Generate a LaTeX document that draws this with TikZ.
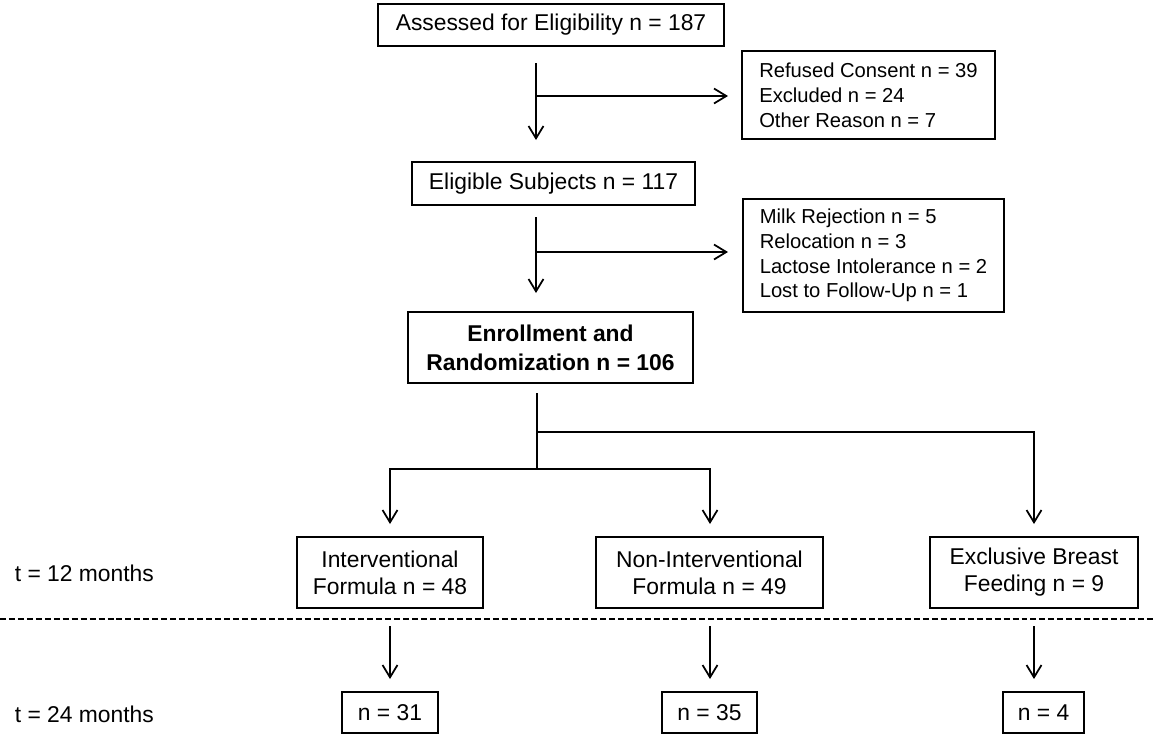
\documentclass[tikz,border=0pt]{standalone}
\usepackage{fontspec}
\setmainfont{Liberation Sans}
\usetikzlibrary{arrows.meta}
\begin{document}
\begin{tikzpicture}[x=0.02cm,y=-0.02cm,
  wh/.style 2 args={minimum width=#1*0.02cm, minimum height=#2*0.02cm},
  box/.style={draw, line width=1pt, inner sep=0pt, align=center, font=\fontsize{13}{15.3}\selectfont},
  sidebox/.style={draw, line width=1pt, inner sep=0pt, align=left, font=\fontsize{11.5}{14.1}\selectfont},
  lbl/.style={inner sep=0pt, anchor=base west, font=\fontsize{13}{15.3}\selectfont},
  conn/.style={line width=1pt},
  arr/.style={conn, -{Straight Barb[length=7pt,width=8.5pt,line width=1pt]}},
  sep/.style={line width=0.8pt, dash pattern=on 3.4pt off 1.7pt},
]
\useasboundingbox (0,0) rectangle (1155,735);

% boxes
\node[box, wh={346}{42}] (assess) at (551,25) {Assessed for Eligibility n = 187};
\node[sidebox, wh={253}{88}] (refused) at (868.5,95) {Refused Consent n = 39\\Excluded n = 24\\Other Reason n = 7};
\node[box, wh={283}{43}] (elig) at (553.5,183.5) {Eligible Subjects n = 117};
\node[sidebox, wh={261}{113}] (milk) at (873.5,255.5) {Milk Rejection n = 5\\Relocation n = 3\\Lactose Intolerance n = 2\\Lost to Follow-Up n = 1};
\node[box, wh={285}{71}, font=\bfseries\fontsize{13}{16.4}\selectfont] (enroll) at (550.5,347.5) {Enrollment and\\Randomization n = 106};
\node[box, wh={186}{71}] (int) at (390,572.5) {Interventional\\Formula n = 48};
\node[box, wh={227}{71}] (nonint) at (709.5,572.5) {Non-Interventional\\Formula n = 49};
\node[box, wh={208}{71}] (excl) at (1034,572.5) {Exclusive Breast\\Feeding n = 9};
\node[box, wh={96}{41}] (n31) at (390,712.5) {n = 31};
\node[box, wh={95}{41}] (n35) at (709.5,712.5) {n = 35};
\node[box, wh={81}{41}] (n4) at (1043.5,712.5) {n = 4};

% time labels
\node[lbl] (t12) at (14.5,581) {t = 12 months};
\node[lbl] (t24) at (14.5,722) {t = 24 months};

% connector points
\coordinate (a1) at (536,63);
\coordinate (a1m) at (536,96);
\coordinate (a1e) at (536,140);
\coordinate (a1r) at (728,96);
\coordinate (a2) at (536,217);
\coordinate (a2m) at (536,252);
\coordinate (a2e) at (536,293);
\coordinate (a2r) at (728,252);
\coordinate (a3) at (537,393);
\coordinate (a3m) at (537,432);
\coordinate (a3b) at (537,469);
\coordinate (tint) at (390,524);
\coordinate (tnon) at (710,524);
\coordinate (texc) at (1034,524);
\coordinate (s1) at (390,626);
\coordinate (e1) at (390,679);
\coordinate (s2) at (710,626);
\coordinate (e2) at (710,679);
\coordinate (s3) at (1034,626);
\coordinate (e3) at (1034,679);
\coordinate (dl) at (0,619);
\coordinate (dr) at (1155,619);

% connectors
\draw[arr] (a1) -- (a1e);
\draw[arr] (a1m) -- (a1r);
\draw[arr] (a2) -- (a2e);
\draw[arr] (a2m) -- (a2r);
\draw[conn] (a3) -- (a3b);
\draw[arr] (a3m) -| (texc);
\draw[arr] (a3b) -| (tint);
\draw[arr] (a3b) -| (tnon);
\draw[arr] (s1) -- (e1);
\draw[arr] (s2) -- (e2);
\draw[arr] (s3) -- (e3);

% separator
\draw[sep] (dl) -- (dr);
\end{tikzpicture}
\end{document}
